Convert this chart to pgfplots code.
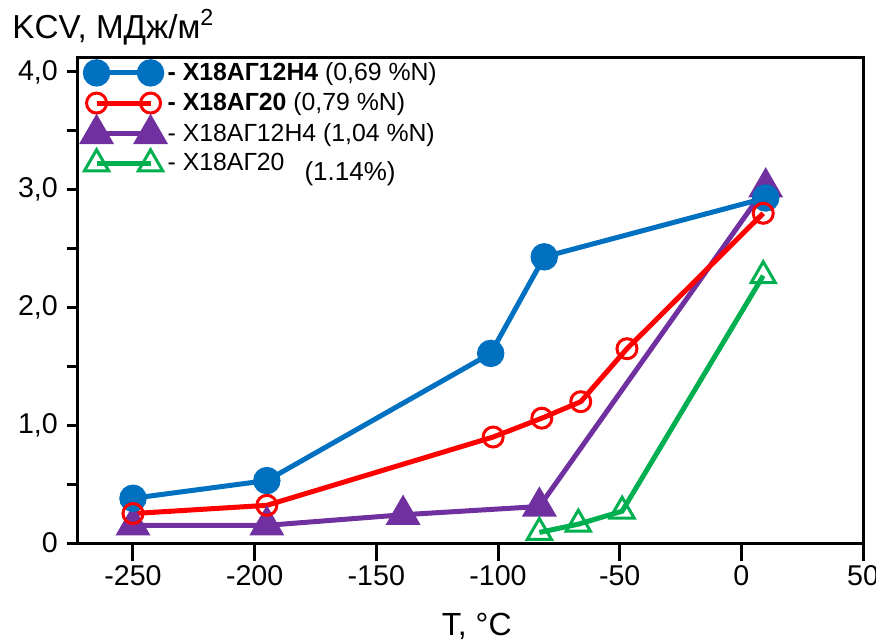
\documentclass[border=0pt]{standalone}
\usepackage{pgfplots}
\pgfplotsset{compat=1.18}
\usepackage{fontspec}
\setmainfont{Liberation Sans}
\definecolor{cblue}{HTML}{0070C0}
\definecolor{cred}{HTML}{FF0000}
\definecolor{cpurple}{HTML}{7030A0}
\definecolor{cgreen}{HTML}{00B050}
\begin{document}
\begin{tikzpicture}
\begin{axis}[
  scale only axis, width=392.5pt, height=243pt,
  xmin=-272.6, xmax=50, ymin=0, ymax=4.127,
  axis line style={line width=1.5pt},
  xtick={-250,-200,-150,-100,-50,0,50},
  xticklabels={-250,-200,-150,-100,-50,0,50},
  ytick={0,1,2,3,4},
  yticklabels={0,{1,0},{2,0},{3,0},{4,0}},
  minor ytick={0.5,1.5,2.5,3.5},
  tick align=outside, xtick pos=bottom, ytick pos=left,
  xtick style={line width=1.5pt, black, /pgfplots/major tick length=9pt},
  ytick style={line width=1.5pt, black, /pgfplots/major tick length=5.5pt, /pgfplots/minor tick length=5.5pt},
  minor tick style={line width=1.5pt, black},
  tick label style={font=\fontsize{14.3}{16}\selectfont},
  xticklabel style={yshift=-3.3pt},
  yticklabel style={xshift=-2.3pt},
  /pgf/number format/assume math mode=true,
  clip=false,
  legend image code/.code={\draw[#1] plot coordinates {(0pt,0pt) (27pt,0pt)};},
  legend cell align=left,
  legend style={draw=none, fill=none, at={(rel axis cs:0,1)}, anchor=north west,
    xshift=-0.5pt, yshift=1.5pt,
    font=\fontsize{12.4}{14}\selectfont, row sep=0.6pt,
    /tikz/every even column/.append style={column sep=3.5pt}},
]
\addlegendimage{cblue, line width=2.5pt, mark=*, mark size=5.6pt, mark options={solid}}
\addlegendentry{\textbf{- Х18АГ12Н4} (0,69 \%N)}
\addlegendimage{cred, line width=2.5pt, mark=o, mark size=5pt, mark options={fill=white, line width=1.5pt}}
\addlegendentry{\textbf{- Х18АГ20} (0,79 \%N)}
\addlegendimage{cpurple, line width=2.5pt, mark=triangle*, mark size=7.6pt}
\addlegendentry{- Х18АГ12Н4 (1,04 \%N)}
\addlegendimage{cgreen, line width=2.5pt, mark=triangle, mark size=7pt, mark options={fill=white, line width=1.5pt}}
\addlegendentry{- Х18АГ20\hspace{10pt}\raisebox{-5pt}{\fontsize{13}{15}\selectfont(1.14\%)}}

% purple
\addplot[forget plot, cpurple, line width=2.5pt, mark=triangle*, mark size=7.6pt] coordinates {
(-250,0.15) (-195,0.15) (-139,0.24) (-83,0.31) (10,3.02)};
% green
\addplot[forget plot, cgreen, line width=2.5pt, mark=triangle, mark size=7pt, mark options={fill=white, line width=1.5pt}] coordinates {
(-83,0.09) (-67,0.16) (-49,0.27) (9,2.27)};
% blue
\addplot[forget plot, cblue, line width=2.5pt, mark=*, mark size=5.6pt] coordinates {
(-250,0.38) (-195,0.53) (-103,1.61) (-81,2.43) (10,2.93)};
% red
\addplot[forget plot, cred, line width=2.5pt, mark=o, mark size=5pt, mark options={fill=white, line width=1.5pt}] coordinates {
(-250,0.25) (-195,0.32) (-102,0.90) (-82,1.06) (-66,1.20) (-47,1.65) (9,2.80)};

\node[anchor=base west, inner sep=0pt, font=\fontsize{16.6}{18}\selectfont] at ([xshift=-33pt, yshift=9.5pt]rel axis cs:0,1) {KCV, МДж/м\textsuperscript{2}};
\node[anchor=base, inner sep=0pt, font=\fontsize{16}{18}\selectfont] at ([yshift=-46pt]rel axis cs:0.508,0) {T, °C};
\end{axis}
\pgfresetboundingbox
\path[use as bounding box] (-39pt,-48pt) rectangle (399pt,271.5pt);
\end{tikzpicture}
\end{document}
